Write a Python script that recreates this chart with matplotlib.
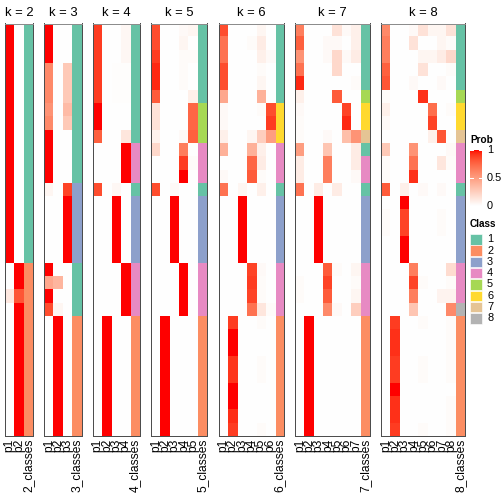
import numpy as np
import matplotlib
matplotlib.use('Agg')
import matplotlib.pyplot as plt
from matplotlib.colors import ListedColormap, to_rgb
from matplotlib.patches import Rectangle

plt.rcParams['font.family'] = ['Liberation Sans', 'DejaVu Sans']

# ---------------- data ----------------
k_values = [2, 3, 4, 5, 6, 7, 8]
class_ids = [1, 2, 3, 4, 5, 6, 7, 8]
class_colors = ["#66C2A5", "#FC8D62", "#8DA0CB", "#E78AC3",
                "#A6D854", "#FFD92F", "#E5C494", "#B3B3B3"]
prob_ticks = [0, 0.5, 1]
prob_tick_labels = ["0", "0.5", "1"]

prob_k2 = [
    [1, 0], [1, 0], [1, 0], [1, 0], [1, 0], [1, 0], [1, 0], [1, 0], [1, 0],
    [1, 0], [1, 0], [1, 0], [1, 0], [1, 0], [1, 0], [1, 0], [1, 0], [1, 0],
    [0, 1], [0, 1], [0.12, 0.82], [0, 1], [0, 1], [0, 1], [0, 1], [0, 1],
    [0, 1], [0, 1], [0, 1], [0, 1], [0, 1]]
class_k2 = [1] * 18 + [2] * 13

prob_k3 = [
    [1, 0, 0], [1, 0, 0], [1, 0, 0],
    [0.6, 0, 0.28], [0.6, 0, 0.28], [0.6, 0, 0.28], [0.55, 0, 0.35], [0.6, 0, 0.28],
    [1, 0, 0], [1, 0, 0], [1, 0, 0], [1, 0, 0],
    [0.05, 0, 0.88],
    [0, 0, 1], [0, 0, 1], [0, 0, 1], [0, 0, 1], [0, 0, 1],
    [1, 0, 0], [0.45, 0.38, 0], [1, 0, 0], [0.85, 0.05, 0],
    [0, 1, 0], [0, 1, 0], [0, 1, 0], [0, 1, 0], [0, 1, 0], [0, 1, 0],
    [0, 1, 0], [0, 1, 0], [0, 1, 0]]
class_k3 = [1] * 12 + [3] * 6 + [1] * 4 + [2] * 9

prob_k4 = [
    [0.9, 0, 0, 0.04], [0.9, 0, 0, 0.04], [0.9, 0, 0, 0.04],
    [0.9, 0, 0.01, 0.01], [0.9, 0, 0.01, 0.01], [0.9, 0, 0.01, 0.01],
    [1, 0, 0, 0], [1, 0, 0, 0],
    [0.78, 0, 0, 0.13],
    [0, 0, 0, 1], [0, 0, 0, 1], [0, 0, 0, 1],
    [0.85, 0, 0.04, 0],
    [0, 0, 1, 0], [0, 0, 1, 0], [0, 0, 1, 0], [0, 0, 1, 0], [0, 0, 1, 0],
    [0, 0, 0, 1], [0, 0, 0, 1], [0, 0, 0, 1], [0, 0, 0, 1],
    [0, 1, 0, 0], [0, 1, 0, 0], [0, 1, 0, 0], [0, 1, 0, 0], [0, 1, 0, 0],
    [0, 1, 0, 0], [0, 1, 0, 0], [0, 1, 0, 0], [0, 1, 0, 0]]
class_k4 = [1] * 9 + [4] * 3 + [1] + [3] * 5 + [4] * 4 + [2] * 9

prob_k5 = [
    [0.85, 0, 0, 0.03, 0.05], [0.85, 0, 0, 0.05, 0], [0.9, 0, 0, 0.02, 0.02],
    [0.95, 0, 0, 0.02, 0], [0.95, 0, 0, 0.02, 0], [0.8, 0, 0, 0, 0.08],
    [0.15, 0, 0, 0, 0.75], [0.15, 0, 0, 0, 0.75], [0.07, 0, 0, 0.03, 0.78],
    [0.2, 0, 0, 0.65, 0], [0, 0, 0, 0.9, 0.02], [0, 0, 0, 1, 0],
    [0.85, 0, 0.03, 0, 0],
    [0, 0, 1, 0, 0], [0, 0, 1, 0, 0], [0, 0, 1, 0, 0], [0, 0, 1, 0, 0], [0, 0, 1, 0, 0],
    [0, 0, 0, 1, 0], [0, 0, 0, 1, 0], [0, 0, 0, 1, 0], [0, 0, 0, 1, 0],
    [0, 1, 0, 0, 0], [0, 1, 0, 0, 0], [0, 1, 0, 0, 0], [0, 1, 0, 0, 0], [0, 1, 0, 0, 0],
    [0, 1, 0, 0, 0], [0, 1, 0, 0, 0], [0, 1, 0, 0, 0], [0, 1, 0, 0, 0]]
class_k5 = [1] * 6 + [5] * 3 + [4] * 3 + [1] + [3] * 5 + [4] * 4 + [2] * 9

prob_k6 = [
    [0.85, 0, 0, 0, 0.05, 0], [0.7, 0, 0, 0.02, 0.1, 0], [0.7, 0, 0, 0, 0.08, 0.03],
    [0.85, 0, 0, 0, 0.02, 0], [0.85, 0, 0, 0, 0.05, 0], [0.45, 0, 0, 0, 0.4, 0],
    [0.03, 0, 0, 0, 0.02, 0.85], [0.03, 0, 0, 0, 0, 0.9], [0.08, 0, 0, 0.05, 0.25, 0.5],
    [0.4, 0, 0, 0.4, 0.08, 0], [0, 0, 0, 0.75, 0.1, 0], [0.03, 0, 0, 0.8, 0.02, 0],
    [0.7, 0, 0.05, 0, 0.08, 0],
    [0, 0, 1, 0, 0, 0], [0, 0, 1, 0, 0, 0], [0, 0, 1, 0, 0, 0], [0, 0, 1, 0, 0, 0],
    [0, 0, 1, 0, 0, 0],
    [0, 0, 0, 0.88, 0.03, 0], [0, 0, 0, 0.9, 0.02, 0], [0, 0, 0, 0.88, 0.02, 0],
    [0, 0, 0, 0.7, 0.13, 0.02],
    [0, 0.9, 0, 0, 0.02, 0], [0, 1, 0, 0, 0, 0], [0, 1, 0, 0, 0, 0],
    [0, 0.92, 0, 0, 0.02, 0], [0, 0.92, 0, 0, 0.02, 0], [0, 1, 0, 0, 0, 0],
    [0, 1, 0, 0, 0, 0], [0, 0.94, 0, 0, 0, 0], [0, 0.9, 0, 0, 0.02, 0]]
class_k6 = [1] * 6 + [6] * 3 + [4] * 3 + [1] + [3] * 5 + [4] * 4 + [2] * 9

prob_k7 = [
    [0.65, 0, 0, 0, 0.15, 0.03, 0.08], [0.78, 0, 0, 0.03, 0.03, 0, 0.08],
    [0.55, 0, 0, 0.03, 0.2, 0.03, 0.1], [0.7, 0, 0, 0, 0.2, 0, 0],
    [0.95, 0, 0, 0, 0, 0, 0.02],
    [0.08, 0, 0, 0, 0.8, 0, 0],
    [0.03, 0, 0, 0, 0, 0.88, 0], [0.02, 0, 0, 0, 0, 0.95, 0],
    [0.02, 0, 0, 0.03, 0, 0.33, 0.55],
    [0.5, 0, 0, 0.3, 0, 0, 0.1],
    [0.1, 0, 0, 0.65, 0, 0, 0.1], [0.1, 0, 0, 0.65, 0, 0, 0.03],
    [0.7, 0, 0.1, 0, 0.1, 0, 0],
    [0, 0, 1, 0, 0, 0, 0], [0, 0, 1, 0, 0, 0, 0], [0, 0, 1, 0, 0, 0, 0],
    [0, 0, 1, 0, 0, 0, 0], [0, 0, 1, 0, 0, 0, 0],
    [0, 0, 0, 0.8, 0.02, 0, 0.05], [0.02, 0, 0, 0.88, 0, 0, 0.02],
    [0.02, 0, 0, 0.8, 0, 0, 0.05], [0, 0, 0, 0.6, 0.03, 0, 0.25],
    [0, 1, 0, 0, 0, 0, 0], [0, 1, 0, 0, 0, 0, 0], [0, 1, 0, 0, 0, 0, 0],
    [0, 1, 0, 0, 0, 0, 0], [0, 1, 0, 0, 0, 0, 0], [0, 1, 0, 0, 0, 0, 0],
    [0, 1, 0, 0, 0, 0, 0], [0, 1, 0, 0, 0, 0, 0], [0, 1, 0, 0, 0, 0, 0]]
class_k7 = [1] * 5 + [5] + [6] * 2 + [7] + [1] + [4] * 2 + [1] + [3] * 5 + [4] * 4 + [2] * 9

prob_k8 = [
    [0.6, 0, 0, 0.03, 0.15, 0.05, 0.05, 0.15], [0.65, 0, 0, 0.15, 0, 0, 0.05, 0.02],
    [0.65, 0, 0, 0, 0.05, 0.05, 0.1, 0.2], [0.78, 0, 0, 0, 0.15, 0, 0, 0.02],
    [0.82, 0, 0, 0.03, 0, 0, 0.03, 0],
    [0.02, 0, 0, 0, 0.93, 0, 0, 0],
    [0.08, 0, 0, 0, 0, 0.72, 0, 0.02], [0.03, 0, 0, 0, 0, 0.88, 0, 0],
    [0, 0, 0, 0, 0, 0.08, 0.82, 0],
    [0.28, 0, 0, 0.55, 0, 0, 0, 0.03], [0.02, 0, 0, 0.7, 0, 0, 0.13, 0.02],
    [0.02, 0, 0, 0.93, 0, 0, 0, 0],
    [0.8, 0, 0.08, 0, 0.03, 0, 0.03, 0],
    [0, 0, 1, 0, 0, 0, 0, 0], [0.02, 0, 0.88, 0, 0, 0, 0.02, 0],
    [0.02, 0, 0.88, 0, 0, 0, 0.02, 0], [0, 0, 1, 0, 0, 0, 0, 0],
    [0, 0, 1, 0, 0, 0, 0, 0],
    [0, 0, 0, 0.65, 0, 0, 0, 0.18], [0, 0, 0, 0.88, 0.02, 0, 0, 0.02],
    [0, 0, 0, 0.65, 0, 0, 0.06, 0.06], [0, 0, 0, 0.3, 0, 0, 0, 0.6],
    [0, 0.9, 0, 0, 0.02, 0, 0, 0.02], [0, 0.93, 0, 0, 0, 0, 0, 0.02],
    [0, 0.93, 0, 0, 0, 0, 0, 0.02], [0, 0.9, 0, 0, 0.02, 0, 0, 0.02],
    [0, 0.9, 0, 0, 0.02, 0, 0, 0.02], [0, 1, 0, 0, 0, 0, 0, 0],
    [0, 0.93, 0, 0, 0, 0, 0, 0.02], [0, 0.93, 0, 0, 0, 0, 0, 0.02],
    [0, 0.9, 0, 0, 0.02, 0, 0, 0.02]]
class_k8 = [1] * 5 + [5] + [6] * 2 + [7] + [4] * 3 + [1] + [3] * 5 + [4] * 3 + [8] + [2] * 9

probs = {2: prob_k2, 3: prob_k3, 4: prob_k4, 5: prob_k5, 6: prob_k6, 7: prob_k7, 8: prob_k8}
classes = {2: class_k2, 3: class_k3, 4: class_k4, 5: class_k5, 6: class_k6, 7: class_k7, 8: class_k8}


# ---------------- colormap white -> red interpolated in LAB ----------------
def _srgb_to_lab(rgb):
    rgb = np.asarray(rgb, float)
    lin = np.where(rgb <= 0.04045, rgb / 12.92, ((rgb + 0.055) / 1.055) ** 2.4)
    M = np.array([[0.4124, 0.3576, 0.1805], [0.2126, 0.7152, 0.0722], [0.0193, 0.1192, 0.9505]])
    xyz = lin @ M.T
    xyz = xyz / np.array([0.95047, 1.0, 1.08883])
    f = np.where(xyz > 0.008856, np.cbrt(xyz), 7.787 * xyz + 16 / 116)
    return np.stack([116 * f[..., 1] - 16, 500 * (f[..., 0] - f[..., 1]), 200 * (f[..., 1] - f[..., 2])], -1)


def _lab_to_srgb(lab):
    L, a, b = lab[..., 0], lab[..., 1], lab[..., 2]
    fy = (L + 16) / 116
    fx = fy + a / 500
    fz = fy - b / 200
    f = np.stack([fx, fy, fz], -1)
    xyz = np.where(f ** 3 > 0.008856, f ** 3, (f - 16 / 116) / 7.787)
    xyz = xyz * np.array([0.95047, 1.0, 1.08883])
    Minv = np.array([[3.2406, -1.5372, -0.4986], [-0.9689, 1.8758, 0.0415], [0.0557, -0.2040, 1.0570]])
    lin = xyz @ Minv.T
    lin = np.clip(lin, 0, 1)
    return np.where(lin <= 0.0031308, 12.92 * lin, 1.055 * lin ** (1 / 2.4) - 0.055).clip(0, 1)


_lw, _lr = _srgb_to_lab(np.array([1.0, 1.0, 1.0])), _srgb_to_lab(np.array([1.0, 0.0, 0.0]))
_t = np.linspace(0, 1, 256)[:, None]
prob_cmap = ListedColormap(_lab_to_srgb(_lw * (1 - _t) + _lr * _t))

# ---------------- figure ----------------
W = H = 504
fig = plt.figure(figsize=(7, 7), dpi=72)

col_w = 9.33
gap = 11.4
top_px, bot_px = 23.5, 435.7

left = 5.0
for k in k_values:
    ncol = k + 1
    wpx = ncol * col_w
    ax = fig.add_axes([left / W, 1 - bot_px / H, wpx / W, (bot_px - top_px) / H])
    P = np.asarray(probs[k], float)
    img = np.zeros((P.shape[0], ncol, 3))
    img[:, :k, :] = prob_cmap(P)[..., :3]
    img[:, k, :] = [to_rgb(class_colors[c - 1]) for c in classes[k]]
    ax.imshow(img, aspect='auto', interpolation='nearest')
    ax.set_xticks(range(ncol))
    ax.set_xticklabels([f"p{i + 1}" for i in range(k)] + [f"{k}_classes"],
                       rotation=90, fontsize=12)
    ax.tick_params(axis='x', length=0, pad=3)
    ax.set_yticks([])
    for s in ax.spines.values():
        s.set_color('#4d4d4d')
        s.set_linewidth(1.0)
    ax.spines['top'].set_color('#8c8c8c')
    ax.set_title(f"k = {k}", fontsize=13, pad=7)
    left += wpx + gap

# ---------------- legends ----------------
lx = 470
fig.text(lx / W, 1 - 143 / H, "Prob", fontsize=10, fontweight='bold', ha='left', va='baseline')
cb_top, cb_bot = 150, 206
cax = fig.add_axes([lx / W, 1 - cb_bot / H, 12 / W, (cb_bot - cb_top) / H])
cax.imshow(np.linspace(1, 0, 200)[:, None], cmap=prob_cmap, aspect='auto',
           extent=[0, 1, 0, 1], vmin=0, vmax=1)
cax.set_xlim(0, 1)
cax.set_ylim(0, 1)
cax.set_xticks([])
cax.set_yticks([])
for s in cax.spines.values():
    s.set_visible(False)
for v, lab in zip(prob_ticks, prob_tick_labels):
    cax.plot([0, 0.22], [v, v], color='white', lw=1)
    cax.plot([0.78, 1], [v, v], color='white', lw=1)
    cax.text(1.4, v, lab, fontsize=11, ha='left', va='center', transform=cax.transData, clip_on=False)

fig.text(lx / W, 1 - 227 / H, "Class", fontsize=10, fontweight='bold', ha='left', va='baseline')
lax = fig.add_axes([0, 0, 1, 1], facecolor='none')
lax.set_xlim(0, W)
lax.set_ylim(H, 0)
lax.axis('off')
step = 11.3
for i, (cid, col) in enumerate(zip(class_ids, class_colors)):
    y0 = 234 + i * step
    lax.add_patch(Rectangle((lx, y0), 11.5, step - 0.8, facecolor=col, edgecolor='white', lw=0.6))
    lax.text(lx + 17, y0 + (step - 0.8) / 2, str(cid), fontsize=11, ha='left', va='center')

fig.savefig("out.png", dpi=72)
